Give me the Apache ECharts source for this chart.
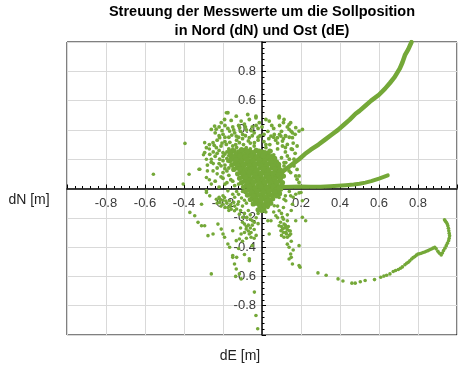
<!DOCTYPE html>
<html>
<head>
<meta charset="utf-8">
<script src="https://cdn.jsdelivr.net/npm/echarts@6/dist/echarts.min.js"></script>
<style>html,body{margin:0;padding:0;background:#fff;}#c{width:465px;height:366px;}</style>
</head>
<body>
<div id="c"></div>
<script>
// Title & axis names
const titleLines = ['Streuung der Messwerte um die Sollposition', 'in Nord (dN) und Ost (dE)'];
const xName = 'dE [m]';
const yName = 'dN [m]';
const axisMin = -1, axisMax = 1, axisStep = 0.2;

// Scattered measurements [dE, dN]
const outliers = [
  [-0.557,0.097],[-0.395,0.308],[-0.404,0.03],[-0.374,0.097],[-0.323,0.131],[-0.285,0.2],[-0.285,-0.027],
  [-0.183,0.517],[-0.319,0.131],[-0.285,0.075],[-0.251,0.12],[-0.26,0.2],[-0.294,0.313],
  [-0.28,0.12],[-0.27,0.06],[-0.25,0.17],[-0.3,0.23],[-0.27,0.27],[-0.23,0.1],[-0.26,0.03]
];
const upperCloud = [
  [-0.132,0.494],[-0.158,0.465],[-0.192,0.471],[-0.209,0.449],[-0.243,0.426],[-0.26,0.403],[-0.107,0.46],
  [-0.073,0.505],[-0.065,0.471],[-0.031,0.483],[-0.014,0.449],[0.02,0.471],[0.037,0.46],[0.088,0.483],
  [0.139,0.437],[0.173,0.415],[0.19,0.392],[0.063,0.369],[0.079,0.347],[0.097,0.358],[0.046,0.358],
  [0.105,0.324],[0.13,0.301],[0.156,0.347],[0.02,0.279],[0.046,0.256],[-0.166,0.392],[-0.132,0.358],
  [-0.099,0.369],[-0.065,0.347],[-0.039,0.313],[-0.217,0.347],[-0.251,0.313],[-0.285,0.279],[-0.294,0.245],
  [-0.268,0.233],[-0.234,0.279],[-0.183,0.301],[-0.15,0.29],[-0.116,0.313],[-0.081,0.279],[-0.2,0.245],
  [-0.158,0.233],[-0.107,0.245],[-0.056,0.233],[-0.031,0.256],[-0.217,0.2],[-0.175,0.188],[-0.132,0.2],
  [-0.081,0.2],[-0.014,0.222],[0.012,0.2],[0.063,0.2],[-0.175,0.517],[-0.031,0.494],[0.088,0.494],
  [0.207,0.403],[0.173,0.086],[0.19,0.041],[0.139,0.12],[0.088,0.154],[0.063,0.188],[0.122,0.177],[-0.2,0.109],
  [-0.22,0.42],[-0.19,0.43],[-0.15,0.42],[-0.12,0.43],[-0.09,0.44],[-0.05,0.42],[-0.02,0.41],[-0.24,0.38],
  [-0.2,0.37],[-0.17,0.35],[-0.14,0.38],[-0.11,0.39],[-0.08,0.4],[-0.04,0.38],[-0.01,0.36],[-0.23,0.33],
  [-0.19,0.32],[-0.13,0.33],[-0.1,0.34],[-0.06,0.31],[-0.02,0.33],[-0.27,0.3],[-0.21,0.29],[-0.17,0.27],
  [-0.13,0.28],[-0.1,0.26],[-0.06,0.27],[-0.25,0.25],[-0.22,0.26],[-0.18,0.25],[-0.14,0.26],[-0.24,0.22],
  [-0.2,0.22],[-0.16,0.21],[-0.12,0.22],[-0.09,0.23],[-0.26,0.18],[-0.22,0.17],[-0.19,0.16],[-0.23,0.14],
  [-0.17,0.14],[-0.28,0.16],[-0.21,0.08],[-0.18,0.12],[-0.24,0.05],[-0.16,0.06],[-0.19,0.03],[-0.22,0.01],
  [0.07,0.33],[0.09,0.37],[0.11,0.34],[0.08,0.31],[0.12,0.36],[0.06,0.35],[0.1,0.39],[0.15,0.39],[0.17,0.37],
  [0.13,0.42],[0.11,0.45],[0.05,0.43],[0.03,0.39],[0.0,0.42],[0.04,0.3],[0.01,0.32],[0.08,0.27],[0.12,0.25],
  [0.06,0.23],[0.1,0.21],[0.15,0.27],[0.113,0.471],[0.147,0.449],[0.156,0.38],[0.139,0.403],[0.122,0.358],
  [0.105,0.29],[0.156,0.267],[0.13,0.222],[0.19,0.086],[0.113,0.154],[0.164,0.154],[0.147,0.109],[0.18,0.063],
  [0.113,0.177],[0.164,0.2],[0.18,0.13],
  [-0.235,0.405],[-0.205,0.395],[-0.175,0.41],[-0.145,0.4],[-0.115,0.415],[-0.085,0.42],[-0.055,0.395],[-0.03,0.43],
  [-0.22,0.36],[-0.19,0.35],[-0.155,0.365],[-0.12,0.35],[-0.085,0.36],[-0.05,0.36],[-0.02,0.35],
  [-0.245,0.295],[-0.205,0.31],[-0.165,0.315],[-0.135,0.3],[-0.095,0.3],[-0.07,0.325],[-0.04,0.29],
  [-0.23,0.24],[-0.19,0.235],[-0.17,0.225],[-0.125,0.24],[-0.2,0.19],[-0.18,0.205],[-0.21,0.155],[-0.19,0.135],
  [-0.2,0.07],[-0.17,0.09],[-0.15,0.05],[-0.18,0.04],[-0.14,0.02],[-0.12,0.03],
  [0.02,0.3],[0.035,0.34],[0.01,0.37],[0.06,0.41],[0.09,0.43],[0.14,0.35],[0.16,0.31],[0.17,0.24],[0.14,0.2],
  [0.12,0.28],[0.18,0.29]
];
const core = [
  [-0.15,0.26],[-0.12,0.25],[-0.09,0.26],[-0.06,0.25],[-0.03,0.26],[0.0,0.25],[0.03,0.24],
  [-0.16,0.23],[-0.13,0.22],[-0.1,0.23],[-0.07,0.22],[-0.04,0.23],[-0.01,0.22],[0.02,0.23],[0.05,0.22],
  [-0.15,0.2],[-0.12,0.19],[-0.09,0.2],[-0.06,0.19],[-0.03,0.2],[0.0,0.19],[0.03,0.2],[0.06,0.19],
  [-0.14,0.17],[-0.11,0.16],[-0.08,0.17],[-0.05,0.16],[-0.02,0.17],[0.01,0.16],[0.04,0.17],[0.07,0.16],
  [-0.13,0.14],[-0.1,0.13],[-0.07,0.14],[-0.04,0.13],[-0.01,0.14],[0.02,0.13],[0.05,0.14],[0.08,0.13],
  [-0.11,0.11],[-0.08,0.1],[-0.05,0.11],[-0.02,0.1],[0.01,0.11],[0.04,0.1],[0.07,0.11],[0.1,0.1],
  [-0.1,0.08],[-0.07,0.07],[-0.04,0.08],[-0.01,0.07],[0.02,0.08],[0.05,0.07],[0.08,0.08],
  [-0.09,0.05],[-0.06,0.04],[-0.03,0.05],[0.0,0.04],[0.03,0.05],[0.06,0.04],[0.09,0.05],
  [-0.08,0.02],[-0.05,0.01],[-0.02,0.02],[0.01,0.01],[0.04,0.02],[0.07,0.01],[0.1,0.02],
  [-0.07,-0.01],[-0.04,-0.02],[-0.01,-0.01],[0.02,-0.02],[0.05,-0.01],[0.08,-0.02],
  [-0.06,-0.04],[-0.03,-0.05],[0.0,-0.04],[0.03,-0.05],[0.06,-0.04],
  [-0.05,-0.07],[-0.02,-0.08],[0.01,-0.07],[0.04,-0.08],
  [-0.03,-0.1],[0.0,-0.11],[0.02,-0.1],[-0.01,-0.13],[0.01,-0.14],
  [-0.135,0.235],[-0.105,0.21],[-0.075,0.235],[-0.045,0.21],[-0.015,0.235],[0.015,0.21],[0.045,0.205],
  [-0.125,0.18],[-0.095,0.15],[-0.065,0.18],[-0.035,0.15],[-0.005,0.18],[0.025,0.15],[0.055,0.175],[0.085,0.15],
  [-0.095,0.12],[-0.065,0.09],[-0.035,0.12],[-0.005,0.09],[0.025,0.12],[0.055,0.09],[0.085,0.115],
  [-0.075,0.055],[-0.045,0.03],[-0.015,0.055],[0.015,0.03],[0.045,0.055],[0.075,0.03],
  [-0.055,-0.005],[-0.025,-0.03],[0.005,0.0],[0.035,-0.03],[0.065,0.0],[0.095,-0.005],
  [-0.035,-0.06],[-0.005,-0.09],[0.025,-0.06],[0.045,-0.1],
  [-0.165,0.25],[-0.105,0.265],[-0.075,0.255],[-0.045,0.245],[-0.015,0.255],[0.015,0.245],[0.04,0.255],
  [-0.145,0.215],[-0.115,0.225],[-0.085,0.215],[-0.055,0.225],[-0.025,0.215],[0.005,0.225],[0.035,0.215],[0.065,0.205],
  [-0.165,0.19],[-0.135,0.195],[-0.105,0.185],[-0.075,0.195],[-0.045,0.185],[-0.015,0.195],[0.015,0.185],[0.045,0.19],[0.075,0.18],
  [-0.155,0.16],[-0.125,0.155],[-0.095,0.165],[-0.065,0.155],[-0.035,0.165],[-0.005,0.155],[0.025,0.165],[0.055,0.155],[0.085,0.165],
  [-0.145,0.13],[-0.115,0.135],[-0.085,0.125],[-0.055,0.135],[-0.025,0.125],[0.005,0.135],[0.035,0.125],[0.065,0.135],[0.095,0.125],
  [-0.125,0.1],[-0.095,0.105],[-0.065,0.115],[-0.035,0.095],[-0.005,0.105],[0.025,0.095],[0.055,0.105],[0.085,0.095],[0.11,0.085],
  [-0.115,0.07],[-0.085,0.08],[-0.055,0.065],[-0.025,0.075],[0.005,0.065],[0.035,0.075],[0.065,0.065],[0.095,0.07],
  [-0.105,0.04],[-0.075,0.035],[-0.045,0.045],[-0.015,0.035],[0.015,0.045],[0.045,0.035],[0.075,0.045],[0.105,0.04],
  [-0.095,0.01],[-0.065,0.015],[-0.035,0.005],[-0.005,0.015],[0.025,0.005],[0.055,0.015],[0.085,0.005],
  [-0.085,-0.02],[-0.055,-0.025],[-0.025,-0.015],[0.005,-0.025],[0.035,-0.015],[0.065,-0.025],[0.09,-0.035],
  [-0.075,-0.045],[-0.045,-0.05],[-0.015,-0.045],[0.015,-0.055],[0.045,-0.045],[0.075,-0.05],
  [-0.06,-0.075],[-0.035,-0.085],[-0.005,-0.065],[0.025,-0.085],[0.055,-0.07],
  [-0.045,-0.105],[-0.015,-0.11],[0.015,-0.12],[0.03,-0.115],[0.0,-0.15],[-0.02,-0.145]
];
const lowerLeft = [
  [-0.234,-0.073],[-0.217,-0.095],[-0.2,-0.107],[-0.175,-0.129],[-0.158,-0.141],[-0.141,-0.152],[-0.192,-0.061],
  [-0.166,-0.084],[-0.124,-0.107],[-0.116,-0.175],[-0.099,-0.197],[-0.09,-0.243],[-0.081,-0.277],[-0.107,-0.311],
  [-0.065,-0.311],[-0.056,-0.333],[-0.065,-0.493],[-0.039,-0.707],[-0.031,-0.867],[-0.022,-0.957],
  [-0.37,-0.163],[-0.345,-0.186],[-0.328,-0.231],[-0.31,-0.254],[-0.294,-0.254],[-0.277,-0.322],[-0.251,-0.311],
  [-0.226,-0.243],[-0.209,-0.277],[-0.2,-0.311],[-0.192,-0.333],[-0.175,-0.379],[-0.166,-0.401],[-0.15,-0.458],
  [-0.141,-0.515],[-0.132,-0.549],[-0.116,-0.583],[-0.107,-0.617],[-0.26,-0.583],[-0.31,-0.107],[-0.268,-0.05],
  [-0.285,-0.016],[-0.175,-0.016],[-0.15,-0.039],[-0.15,-0.288],[-0.132,-0.356],
  [-0.22,-0.06],[-0.2,-0.08],[-0.18,-0.1],[-0.21,-0.12],[-0.19,-0.13],[-0.16,-0.11],[-0.14,-0.12],[-0.13,-0.14],
  [-0.17,-0.15],[-0.2,-0.05],[-0.23,-0.1],[-0.12,-0.09],[-0.1,-0.12],[-0.11,-0.15],[-0.09,-0.08],[-0.08,-0.1],
  [-0.12,-0.04],[-0.1,-0.02],[-0.14,-0.06],[-0.07,-0.15],[-0.08,-0.2],[-0.06,-0.18],[-0.1,-0.23],[-0.07,-0.25],
  [-0.05,-0.22],[-0.04,-0.28],[-0.03,-0.32],[-0.08,-0.34],[-0.05,-0.39],[-0.1,-0.36],[-0.12,-0.41],[-0.09,-0.45],
  [-0.13,-0.47],[-0.135,-0.6],[-0.03,-0.2],[-0.02,-0.24],[-0.02,-0.17],[-0.078,-0.197],[-0.116,-0.345],
  [-0.15,-0.47],[-0.065,-0.48],[-0.056,-0.3],[-0.039,-0.231],
  [-0.09,-0.17],[-0.06,-0.21],[-0.08,-0.26],[-0.06,-0.27],[-0.09,-0.3],[-0.05,-0.25],[-0.11,-0.27],[-0.07,-0.29],
  [-0.04,-0.34],[-0.215,-0.075],[-0.185,-0.085],[-0.165,-0.125],[-0.145,-0.095],[-0.105,-0.065],[-0.13,-0.02]
];
const lowerRight = [
  [0.046,-0.22],[0.037,-0.311],[0.03,-0.22],[0.02,-0.16],[0.03,-0.13],[0.088,-0.152],[0.105,-0.197],[0.113,-0.243],
  [0.122,-0.265],[0.139,-0.288],[0.147,-0.311],[0.13,-0.333],[0.139,-0.401],[0.147,-0.447],[0.139,-0.481],
  [0.156,-0.515],[0.19,-0.39],[0.19,-0.526],[0.173,-0.22],[0.207,-0.197],[0.224,-0.22],[0.156,-0.107],
  [0.122,-0.084],[0.088,-0.061],[0.173,-0.039],[0.207,-0.084],[0.097,-0.288],[0.113,-0.333],[0.088,-0.254],
  [0.105,-0.277],[0.122,-0.299],[0.071,-0.186],[0.063,-0.118],[0.195,-0.537],
  [0.1,-0.26],[0.115,-0.27],[0.13,-0.28],[0.11,-0.3],[0.125,-0.31],[0.14,-0.32],[0.1,-0.32],[0.12,-0.25],
  [0.135,-0.26],[0.145,-0.29],[0.095,-0.23],[0.11,-0.21],[0.13,-0.22],[0.08,-0.2],[0.06,-0.16],[0.1,-0.17],
  [0.13,-0.18],[0.15,-0.15],[0.08,-0.12],[0.11,-0.13],[0.05,-0.05],[0.09,-0.03],[0.12,-0.05],[0.14,-0.02],
  [0.16,-0.06],[0.19,-0.03],[0.15,-0.36],[0.16,-0.42],[0.13,-0.38],[0.15,-0.47],[0.2,-0.027],[0.147,-0.05],[0.113,-0.073]
];
// Southern drift track [dE, dN]
const trackSouth = [
  [0.287,-0.576],[0.329,-0.592],[0.39,-0.617],[0.415,-0.631],[0.461,-0.646],[0.478,-0.646],[0.504,-0.637],
  [0.529,-0.628],[0.577,-0.622],[0.609,-0.606],[0.625,-0.598],[0.639,-0.592],[0.656,-0.583],[0.673,-0.567],
  [0.685,-0.56],[0.699,-0.553],[0.71,-0.544],[0.72,-0.535],[0.733,-0.52],[0.742,-0.51],[0.75,-0.503],
  [0.758,-0.493],[0.767,-0.481],[0.775,-0.472],[0.784,-0.465],[0.792,-0.455],[0.8,-0.447],[0.808,-0.445],
  [0.817,-0.442],[0.826,-0.437],[0.835,-0.433],[0.843,-0.428],[0.852,-0.424],[0.86,-0.418],[0.869,-0.413],
  [0.877,-0.407],[0.886,-0.401],[0.893,-0.412],[0.902,-0.429],[0.91,-0.442],[0.919,-0.454],[0.925,-0.44],
  [0.931,-0.424],[0.938,-0.407],[0.945,-0.39],[0.951,-0.373],[0.957,-0.356],[0.96,-0.34],[0.962,-0.322],
  [0.96,-0.305],[0.958,-0.288],[0.956,-0.271],[0.953,-0.254],[0.95,-0.242],[0.945,-0.231],[0.94,-0.222],[0.936,-0.214]
];
// Dense north-east drift track [dE, dN]
const trackNE = [
  [0.05,0.06],[0.08,0.09],[0.10,0.11],[0.13,0.14],[0.16,0.17],[0.19,0.20],[0.22,0.235],[0.25,0.265],
  [0.29,0.30],[0.32,0.33],[0.36,0.37],[0.39,0.40],[0.42,0.435],[0.45,0.47],[0.48,0.51],[0.50,0.53],
  [0.53,0.565],[0.56,0.60],[0.60,0.64],[0.63,0.68],[0.656,0.72],[0.68,0.76],[0.707,0.82],[0.72,0.86],
  [0.733,0.91],[0.75,0.95],[0.767,1.0]
];
// Dense eastward drift track [dE, dN]
const trackEast = [
  [0.02,0.01],[0.10,0.01],[0.15,0.012],[0.19,0.014],[0.25,0.012],[0.30,0.012],[0.35,0.015],[0.39,0.018],
  [0.43,0.022],[0.47,0.027],[0.50,0.032],[0.53,0.04],[0.56,0.05],[0.60,0.068],[0.645,0.09]
];

const green = '#74a838';
const chart = echarts.init(document.getElementById('c'), null, {renderer: 'canvas'});
const fmt = v => (Math.abs(v) < 1e-9 || Math.abs(Math.abs(v) - 1) < 1e-9) ? '' : v.toFixed(1);
const G = {left: 67, right: 8, top: 42, bottom: 31};
const gridW = 465 - G.left - G.right, gridH = 366 - G.top - G.bottom;
const axisCommon = {
  type: 'value', min: axisMin, max: axisMax, interval: axisStep,
  axisLine: {show: true, onZero: false, lineStyle: {color: '#000', width: 1.5}},
  axisTick: {show: true, inside: true, length: 4, lineStyle: {color: '#000', width: 1}},
  minorTick: {show: true, splitNumber: 5, length: 2.5, lineStyle: {color: '#000', width: 1}},
  splitLine: {show: true, lineStyle: {color: '#d9d9d9', width: 1}},
  axisLabel: {formatter: fmt, color: '#3a3a3a', fontSize: 13, fontFamily: 'Liberation Sans'}
};
const dotSeries = (d, s) => ({type: 'scatter', data: d, symbolSize: s, itemStyle: {color: green, opacity: 1}, silent: true, z: 3});
chart.setOption({
  animation: false,
  backgroundColor: '#fff',
  grid: Object.assign({show: true, borderColor: '#000', borderWidth: 1, backgroundColor: 'transparent'}, G),
  xAxis: Object.assign({}, axisCommon, {position: 'bottom', offset: -gridH / 2, axisLabel: Object.assign({}, axisCommon.axisLabel, {margin: 8})}),
  yAxis: Object.assign({}, axisCommon, {position: 'left', offset: -gridW / 2, axisLabel: Object.assign({}, axisCommon.axisLabel, {margin: 6})}),
  graphic: {elements: [
    {type: 'text', x: 262, y: 12, style: {text: titleLines[0], fill: '#000', fontSize: 14.5, fontWeight: 'bold', fontFamily: 'Liberation Sans', align: 'center', verticalAlign: 'middle'}},
    {type: 'text', x: 262, y: 31, style: {text: titleLines[1], fill: '#000', fontSize: 14.5, fontWeight: 'bold', fontFamily: 'Liberation Sans', align: 'center', verticalAlign: 'middle'}},
    {type: 'text', x: 29, y: 200, style: {text: yName, fill: '#222', fontSize: 14, fontFamily: 'Liberation Sans', align: 'center', verticalAlign: 'middle'}},
    {type: 'text', x: 240, y: 356, style: {text: xName, fill: '#222', fontSize: 14, fontFamily: 'Liberation Sans', align: 'center', verticalAlign: 'middle'}}
  ]},
  series: [
    {type: 'line', data: trackNE, symbol: 'none', lineStyle: {color: green, width: 4.5, cap: 'round', join: 'round'}, silent: true, z: 3},
    {type: 'line', data: trackEast, symbol: 'none', lineStyle: {color: green, width: 4, cap: 'round', join: 'round'}, silent: true, z: 3},
    dotSeries(outliers, 3.6), dotSeries(upperCloud, 3.8), dotSeries(core, 5.2), dotSeries(lowerLeft, 3.6), dotSeries(lowerRight, 3.6), dotSeries(trackSouth, 3.6)
  ]
});
</script>
</body>
</html>
